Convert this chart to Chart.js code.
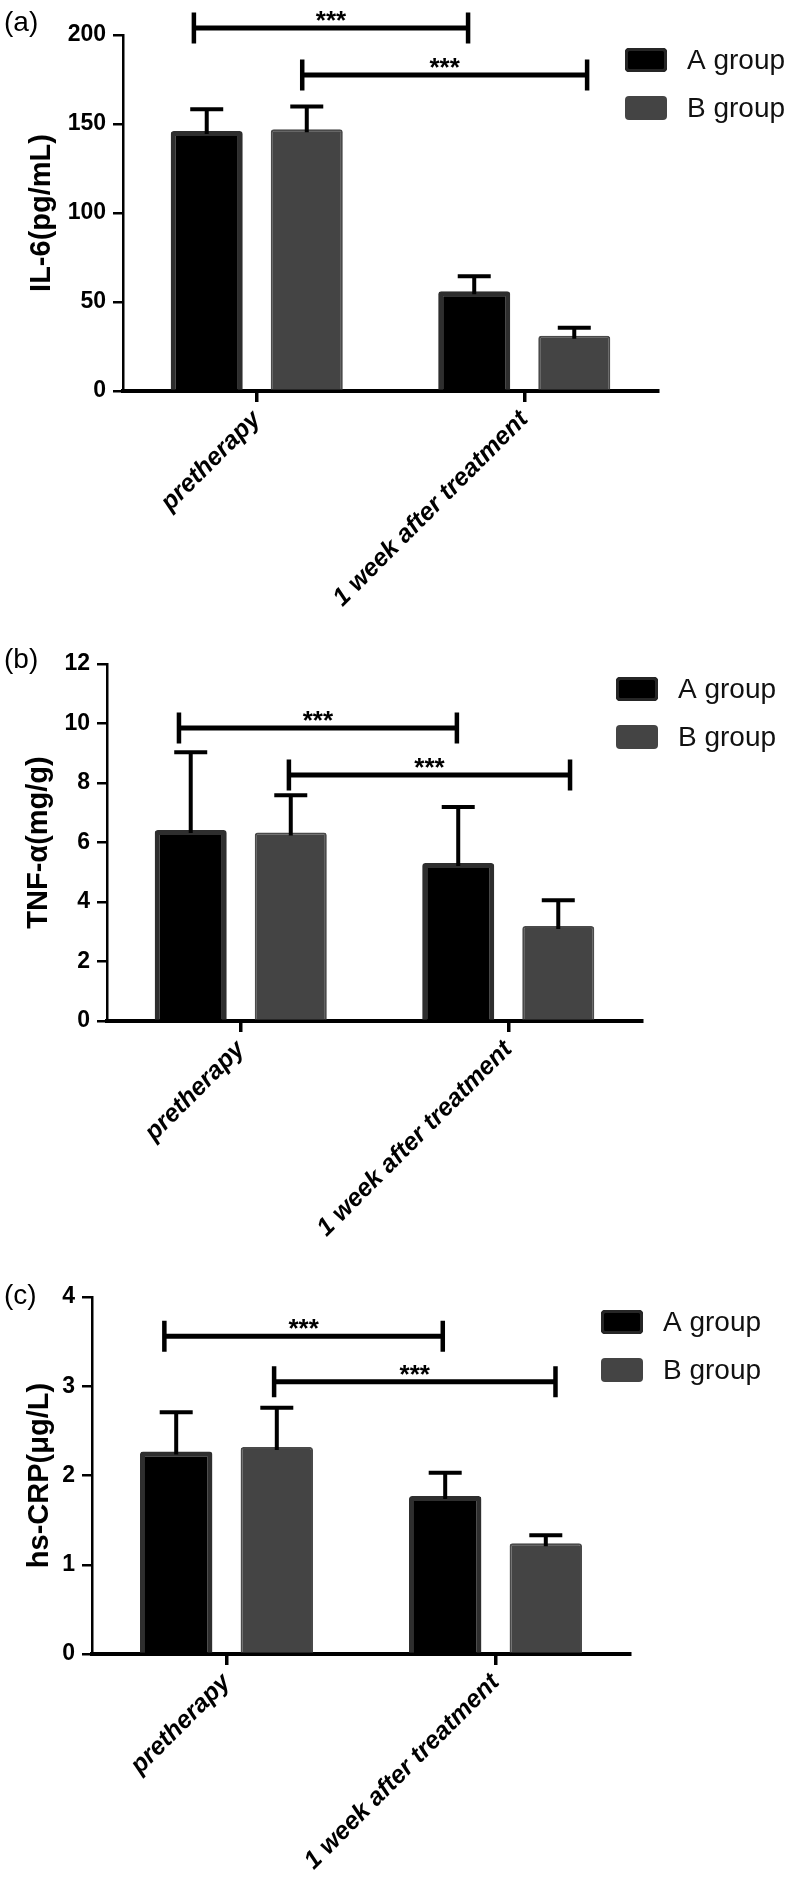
<!DOCTYPE html>
<html>
<head>
<meta charset="utf-8">
<script src="https://cdn.jsdelivr.net/npm/chart.js@4.4.1/dist/chart.umd.min.js"></script>
<style>
html, body { margin: 0; padding: 0; background: #fff; }
.panel { position: absolute; left: 0; width: 794px; }
</style>
</head>
<body>
<div class="panel" style="top:0"><canvas id="chartA" width="794" height="628"></canvas></div>
<div class="panel" style="top:628px"><canvas id="chartB" width="794" height="628"></canvas></div>
<div class="panel" style="top:1256px"><canvas id="chartC" width="794" height="629"></canvas></div>
<script>
// categories and groups
const categories = ['pretherapy', '1 week after treatment'];
const groupNames = ['A group', 'B group'];
const sigLabel = '***';

// (a) IL-6
const il6A = [146, 56];
const il6B = [147, 31];
const il6ErrA = [12.3, 8.4];
const il6ErrB = [12.9, 4.5];
const il6Ticks = [0, 50, 100, 150, 200];
// [from category, to category, height]
const il6Brackets = [[-0.235, 0.79, 204], [0.17, 1.235, 177.5]];

// (b) TNF-alpha
const tnfA = [6.42, 5.31];
const tnfB = [6.34, 3.19];
const tnfErrA = [2.61, 1.88];
const tnfErrB = [1.25, 0.87];
const tnfTicks = [0, 2, 4, 6, 8, 10, 12];
const tnfBrackets = [[-0.231, 0.808, 9.85], [0.18, 1.231, 8.27]];

// (c) hs-CRP
const crpA = [2.27, 1.77];
const crpB = [2.32, 1.24];
const crpErrA = [0.44, 0.26];
const crpErrB = [0.44, 0.09];
const crpTicks = [0, 1, 2, 3, 4];
const crpBrackets = [[-0.231, 0.804, 3.56], [0.177, 1.223, 3.05]];

const FONT = '"Liberation Sans", Arial, Helvetica, sans-serif';
Chart.defaults.font.family = FONT;
Chart.defaults.color = '#000';

/* error bars, only upward like the original */
const errorBars = {
	id: 'errorBars',
	afterDatasetsDraw(chart, args, opts) {
		const ctx = chart.ctx;
		const y = chart.scales.y;
		opts.errors.forEach((errs, di) => {
			const meta = chart.getDatasetMeta(di);
			meta.data.forEach((bar, j) => {
				const v = chart.data.datasets[di].data[j];
				const yTop = y.getPixelForValue(v + errs[j]);
				ctx.save();
				ctx.strokeStyle = '#000';
				ctx.lineWidth = 4;
				ctx.beginPath();
				ctx.moveTo(bar.x, bar.y + 3);
				ctx.lineTo(bar.x, yTop);
				ctx.moveTo(bar.x - 16.5, yTop);
				ctx.lineTo(bar.x + 16.5, yTop);
				ctx.stroke();
				ctx.restore();
			});
		});
	}
};

/* significance brackets */
const brackets = {
	id: 'brackets',
	afterDraw(chart, args, opts) {
		const ctx = chart.ctx;
		const x = chart.scales.x, y = chart.scales.y;
		opts.items.forEach(([a, b, v]) => {
			const x0 = x.getPixelForValue(a);
			const x1 = x.getPixelForValue(b);
			const yy = y.getPixelForValue(v);
			ctx.save();
			ctx.strokeStyle = '#000';
			ctx.lineWidth = 5;
			ctx.beginPath();
			ctx.moveTo(x0, yy);
			ctx.lineTo(x1, yy);
			ctx.stroke();
			ctx.lineWidth = 4.5;
			ctx.beginPath();
			ctx.moveTo(x0, yy - 15.5);
			ctx.lineTo(x0, yy + 15.5);
			ctx.moveTo(x1, yy - 15.5);
			ctx.lineTo(x1, yy + 15.5);
			ctx.stroke();
			ctx.fillStyle = '#000';
			ctx.font = 'bold 26px ' + FONT;
			ctx.textAlign = 'center';
			ctx.textBaseline = 'alphabetic';
			ctx.fillText(sigLabel, (x0 + x1) / 2, yy + 1);
			ctx.restore();
		});
	}
};

/* legend boxes + panel letter */
const panelDecor = {
	id: 'panelDecor',
	afterDraw(chart, args, opts) {
		const ctx = chart.ctx;
		const top = chart.chartArea.top;
		ctx.save();
		chart.data.datasets.forEach((ds, i) => {
			const cy = top + opts.rows[i];
			ctx.beginPath();
			ctx.roundRect(opts.x, cy - 12, 42, 24, 4);
			ctx.fillStyle = ds.backgroundColor;
			ctx.fill();
			if (i === 0) {
				ctx.lineWidth = 3;
				ctx.strokeStyle = '#262626';
				ctx.beginPath();
				ctx.roundRect(opts.x + 1.5, cy - 10.5, 39, 21, 3);
				ctx.stroke();
			}
			ctx.fillStyle = '#111';
			ctx.font = '28px ' + FONT;
			ctx.textAlign = 'left';
			ctx.textBaseline = 'middle';
			ctx.fillText(ds.label, opts.x + 62, cy + 1);
		});
		ctx.font = '28px ' + FONT;
		ctx.textAlign = 'left';
		ctx.textBaseline = 'middle';
		ctx.fillStyle = '#000';
		ctx.fillText(opts.letter, 4, top + opts.letterDy);
		ctx.restore();
	}
};

function makePanel(id, p) {
	const canvas = document.getElementById(id);
	return new Chart(canvas, {
		type: 'bar',
		data: {
			labels: categories,
			datasets: [
				{
					label: groupNames[0],
					data: p.a,
					backgroundColor: '#000000',
					borderColor: '#2e2e2e',
					borderWidth: 5,
					borderRadius: 3,
					barPercentage: 0.72,
					categoryPercentage: 0.748
				},
				{
					label: groupNames[1],
					data: p.b,
					backgroundColor: '#444444',
					borderColor: '#4a4a4a',
					borderWidth: 2,
					borderRadius: 3,
					barPercentage: 0.72,
					categoryPercentage: 0.748
				}
			]
		},
		options: {
			responsive: false,
			animation: false,
			layout: {
				padding: { top: p.top, right: 794 - p.right, left: 0, bottom: 0 }
			},
			scales: {
				x: {
					afterFit: (scale) => { scale.height = p.h - p.bottom; },
					border: { display: true, color: '#000', width: 4 },
					grid: { offset: false, drawOnChartArea: false, drawTicks: true, tickLength: 11, lineWidth: 3.5, color: '#000' },
					ticks: {
						autoSkip: false,
						minRotation: 45,
						maxRotation: 45,
						padding: 3,
						color: '#000',
						font: { size: 25, weight: 'bold', style: 'italic' }
					}
				},
				y: {
					min: 0,
					max: p.ticks[p.ticks.length - 1],
					afterFit: (scale) => { scale.width = p.left; },
					afterBuildTicks: (scale) => { scale.ticks = p.ticks.map(v => ({ value: v })); },
					border: { display: true, color: '#000', width: 2.5 },
					grid: { drawOnChartArea: false, drawTicks: true, tickLength: 10, lineWidth: 2.5, color: '#000' },
					ticks: {
						padding: 7,
						color: '#000',
						font: { size: 23, weight: 'bold' }
					},
					title: {
						display: true,
						text: p.title,
						color: '#000',
						padding: { top: p.titlePad, bottom: 0 },
						font: { size: 29, weight: 'bold' }
					}
				}
			},
			plugins: {
				legend: { display: false },
				tooltip: { enabled: false },
				errorBars: { errors: [p.errA, p.errB] },
				brackets: { items: p.brackets },
				panelDecor: { x: p.legendX, rows: [25, 73], letter: p.letter, letterDy: p.letterDy }
			}
		},
		plugins: [errorBars, brackets, panelDecor]
	});
}

const chartA = makePanel('chartA', {
	a: il6A, b: il6B, errA: il6ErrA, errB: il6ErrB, ticks: il6Ticks, brackets: il6Brackets,
	title: 'IL-6(pg/mL)', letter: '(a)',
	h: 628, left: 123, right: 658, top: 35, bottom: 391,
	titlePad: 24.6, legendX: 625, letterDy: -12
});

const chartB = makePanel('chartB', {
	a: tnfA, b: tnfB, errA: tnfErrA, errB: tnfErrB, ticks: tnfTicks, brackets: tnfBrackets,
	title: 'TNF-α(mg/g)', letter: '(b)',
	h: 628, left: 107, right: 642, top: 36, bottom: 393,
	titlePad: 21.6, legendX: 616, letterDy: -4
});

const chartC = makePanel('chartC', {
	a: crpA, b: crpB, errA: crpErrA, errB: crpErrB, ticks: crpTicks, brackets: crpBrackets,
	title: 'hs-CRP(μg/L)', letter: '(c)',
	h: 629, left: 92, right: 630, top: 41, bottom: 398,
	titlePad: 22.6, legendX: 601, letterDy: -1
});
</script>
</body>
</html>
